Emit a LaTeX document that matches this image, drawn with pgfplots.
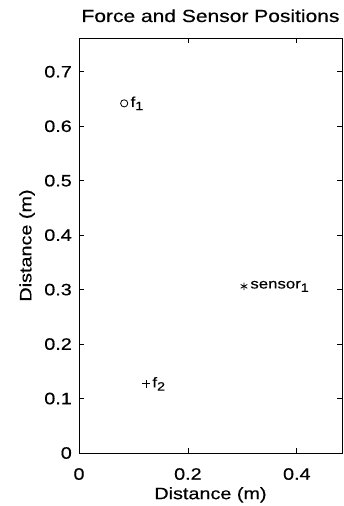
\documentclass[border=0pt]{standalone}
\usepackage{fontspec}
\setmainfont{Liberation Sans}[FakeStretch=1.2, FakeBold=0.4]
\usepackage{pgfplots}
\pgfplotsset{compat=1.18}
\newcommand{\lblfont}{\fontsize{16.5}{18}\selectfont}
\newcommand{\ttlfont}{\fontsize{17.5}{19}\selectfont}
\newcommand{\annfont}{\fontsize{14}{15}\selectfont}
\newcommand{\ann}[2]{#1\raisebox{-3.3pt}{\fontsize{12}{12}\selectfont #2}}
\begin{document}
\begin{tikzpicture}
\begin{axis}[name=ax, scale only axis, width=263pt, height=415pt,
  xmin=0, xmax=0.483, ymin=0, ymax=0.762,
  xtick={0,0.2,0.4}, ytick={0,0.1,0.2,0.3,0.4,0.5,0.6,0.7},
  /pgf/number format/assume math mode=true,
  /pgf/number format/fixed,
  tick align=inside, major tick length=5pt,
  every tick/.style={black, line width=0.8pt},
  axis line style={line width=0.8pt},
  ticklabel style={font=\lblfont},
  xticklabel style={anchor=north, inner sep=0pt, yshift=-15pt},
  yticklabel style={anchor=east, inner sep=0pt, xshift=-7pt},
  every axis x label/.style={at={(rel axis cs:0.5,0)}, anchor=north, inner sep=0pt, yshift=-34pt, font=\lblfont},
  every axis y label/.style={at={(rel axis cs:0,0.5)}, rotate=90, anchor=south, inner sep=0pt, yshift=44pt, font=\lblfont},
  every axis title/.style={at={(rel axis cs:0.5,1)}, anchor=base, yshift=16pt, font=\ttlfont},
  xlabel={Distance (m)}, ylabel={Distance (m)},
  title={Force and Sensor Positions},
  nodes near coords align=horizontal,
  every node near coord/.append style={anchor=west, inner sep=0pt, xshift=6pt, font=\annfont, black},
]
\addplot[only marks, mark=o, mark size=3.6pt, line width=0.8pt, black,
  nodes near coords={\ann{f}{1}}] coordinates {(0.083,0.642)};
\addplot[only marks, mark=+, mark size=4pt, line width=0.8pt, black,
  nodes near coords={\ann{f}{2}}] coordinates {(0.123,0.127)};
\addplot[only marks, mark=asterisk, mark size=3.8pt, line width=0.8pt, black,
  nodes near coords={\ann{sensor}{1}}] coordinates {(0.303,0.306)};
\end{axis}
\path ([xshift=-79pt,yshift=-53pt]ax.south west) rectangle ([xshift=2pt,yshift=38pt]ax.north east);
\end{tikzpicture}
\end{document}
